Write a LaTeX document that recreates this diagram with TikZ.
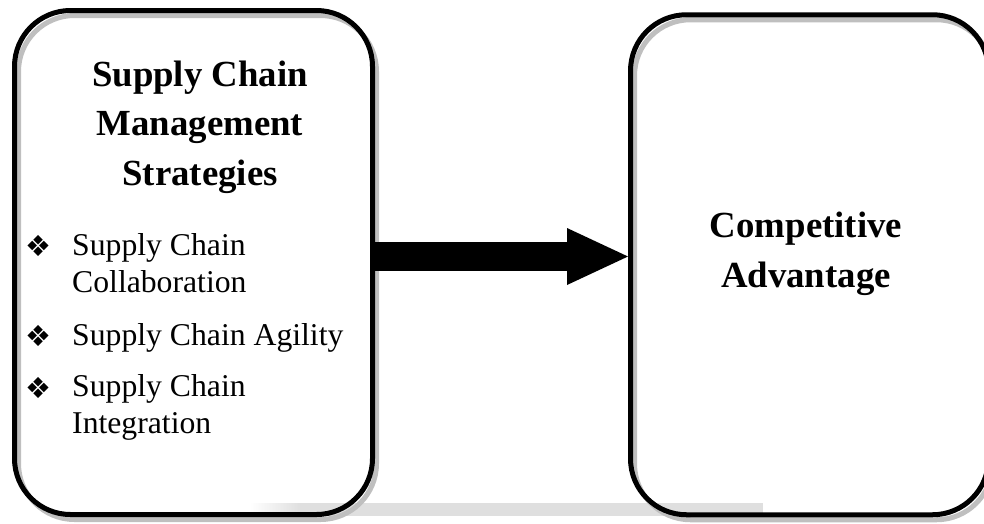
\documentclass[tikz,border=0pt]{standalone}
\usepackage{fontspec}
\setmainfont{Liberation Serif}
\newfontfamily\symfont{DejaVu Sans}
\usetikzlibrary{arrows.meta}

\tikzset{
  panel/.style={draw, line width=5pt, rounded corners=56pt, inner sep=0pt,
    minimum width=358pt},
  panelshadow/.style={panel, draw=gray!50},
  heading/.style={font=\fontsize{36.8}{49.5}\selectfont\bfseries, align=center, inner sep=0pt},
  item/.style={font=\fontsize{31.7}{37}\selectfont, align=left, anchor=base west, inner sep=0pt},
  bullet/.style={font=\symfont\fontsize{29}{29}\selectfont, inner sep=0pt}
}

\begin{document}
\begin{tikzpicture}[x=1pt, y=-1pt]
\useasboundingbox (0,0) rectangle (984,523);

% faint bar under the boxes
\shade[left color=white, right color=gray!25] (250,503) rectangle (300,516);
\fill[gray!25] (300,503) rectangle (763,516);

\coordinate (lc) at (193.5,262.5);
\coordinate (rc) at (809.5,264.75);

% shadows first, then the boxes
\node[panelshadow, minimum height=504pt] at ([shift={(4pt,-5pt)}]lc) {};
\node[panelshadow, minimum height=500pt] at ([shift={(4pt,-5pt)}]rc) {};
\node[panel, minimum height=504pt] (lbox) at (lc) {};
\node[panel, minimum height=500pt] (rbox) at (rc) {};

% base anchor sits on the last line
\node[heading, anchor=base] (lhead) at (200,185) {Supply Chain\\Management\\Strategies};
\node[heading, anchor=base] (rhead) at (806,287) {Competitive\\Advantage};

\foreach \y/\ylast/\name/\txt in {255/292/it1/{Supply Chain\\Collaboration},
                                  345/345/it2/{Supply Chain Agility},
                                  397/433/it3/{Supply Chain\\Integration}}
{
\node[bullet] (b\name) at (38,\y-9.5) {❖};
\node[item] (\name) at (72,\ylast) {\txt};
}

\draw[line width=29pt, -{Triangle[length=61pt, width=57pt, line width=0pt]}]
  ([yshift=6pt]lbox.east) -- ([yshift=6pt]lbox.east -| rbox.west);
\end{tikzpicture}
\end{document}
